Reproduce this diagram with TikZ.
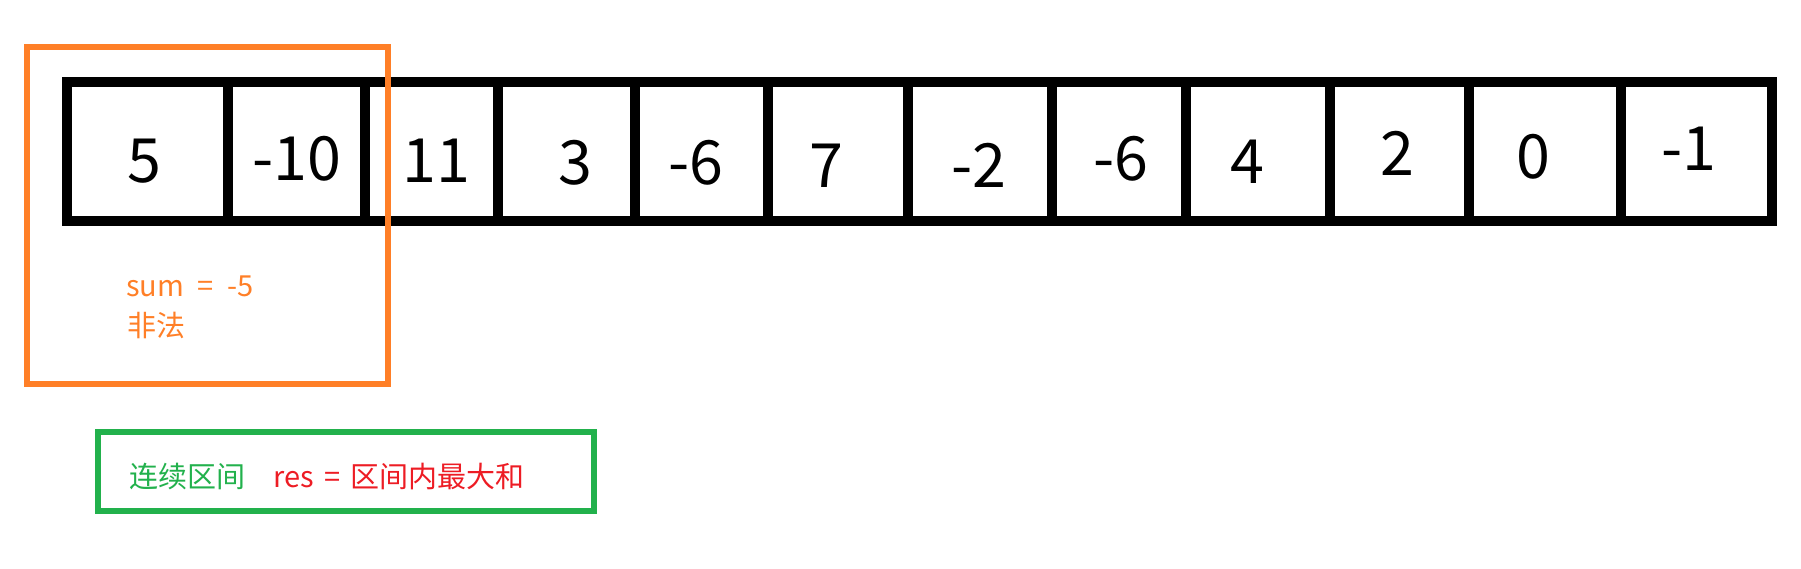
\documentclass[tikz,border=0pt]{standalone}
\usepackage{fontspec}
\setmainfont{Noto Sans CJK SC}
\definecolor{paintorange}{HTML}{FF7F27}
\definecolor{paintgreen}{HTML}{22B14C}
\definecolor{paintred}{HTML}{ED1C24}
\begin{document}
\begin{tikzpicture}[x=1pt,y=-1pt,
  cellbox/.style={draw=black,line width=10pt,inner sep=0pt,outer sep=0pt,minimum height=139pt},
  num/.style={font=\fontsize{61}{61}\selectfont,anchor=base,inner sep=0pt},
  note/.style={font=\fontsize{29}{29}\selectfont,anchor=base west,inner sep=0pt},
  frame/.style={line width=6pt,inner sep=0pt,outer sep=0pt}]
\useasboundingbox (0,0) rectangle (1801,569);
% cells
\node[cellbox,minimum width=160.5pt] (c1) at (147.25,151.5) {};
\node[cellbox,minimum width=137.5pt] (c2) at (296.25,151.5) {};
\node[cellbox,minimum width=133pt] (c3) at (431.5,151.5) {};
\node[cellbox,minimum width=137pt] (c4) at (566.5,151.5) {};
\node[cellbox,minimum width=133pt] (c5) at (701.5,151.5) {};
\node[cellbox,minimum width=139.5pt] (c6) at (837.75,151.5) {};
\node[cellbox,minimum width=144.5pt] (c7) at (979.75,151.5) {};
\node[cellbox,minimum width=133.5pt] (c8) at (1118.75,151.5) {};
\node[cellbox,minimum width=144.5pt] (c9) at (1257.75,151.5) {};
\node[cellbox,minimum width=139pt] (c10) at (1399.5,151.5) {};
\node[cellbox,minimum width=152pt] (c11) at (1545,151.5) {};
\node[cellbox,minimum width=151pt] (c12) at (1696.5,151.5) {};
% numbers
\node[num] (n1) at (144.5,183) {5};
\node[num] (n2) at (297,181) {-10};
\node[num] (n3) at (436,183) {11};
\node[num] (n4) at (575,185) {3};
\node[num] (n5) at (696,185) {-6};
\node[num] (n6) at (826,188) {7};
\node[num] (n7) at (979,188) {-2};
\node[num] (n8) at (1120.5,181) {-6};
\node[num] (n9) at (1247,184) {4};
\node[num] (n10) at (1397,176) {2};
\node[num] (n11) at (1533.5,179) {0};
\node[num] (n12) at (1689,171) {-1};
% orange window
\node[frame,draw=paintorange,minimum width=361pt,minimum height=336pt] (win) at (207.5,215.5) {};
\node[note,text=paintorange] (sum) at (126,296) {sum\hspace{7pt} =\hspace{7pt} -5};
\node[note,text=paintorange] (ill) at (127,336) {非法};
% green box
\node[frame,draw=paintgreen,minimum width=496pt,minimum height=79pt] (gbox) at (346,471.5) {};
\node[note,text=paintgreen] (cont) at (129,487) {连续区间};
\node[note,text=paintred] (res) at (273,487) {res\hspace{4pt} =\hspace{4pt} 区间内最大和};
\end{tikzpicture}
\end{document}
